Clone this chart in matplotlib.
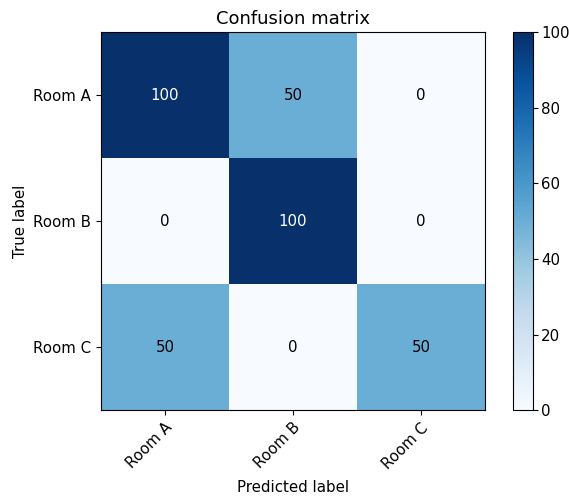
import numpy as np
import matplotlib
matplotlib.use("Agg")
import matplotlib.pyplot as plt
import matplotlib.transforms as mtransforms

# confusion matrix counts (rows: true, cols: predicted)
classes = ["Room A", "Room B", "Room C"]
cm = np.array([[100, 50, 0],
               [0, 100, 0],
               [50, 0, 50]])

plt.rcParams["font.size"] = 10.8

fig = plt.figure(figsize=(5.69, 4.96), dpi=100)
ax = fig.add_axes([0.1775, 0.173, 0.675, 0.762])
cax = fig.add_axes([0.9016, 0.173, 0.035, 0.762])

im = ax.imshow(cm, interpolation="nearest", cmap=plt.cm.Blues, aspect="auto")
ax.set_title("Confusion matrix")
fig.colorbar(im, cax=cax)
cax.tick_params(pad=2.5)

ticks = np.arange(len(classes))
ax.set_xticks(ticks)
ax.set_xticklabels(classes, rotation=45)
ax.set_yticks(ticks)
ax.set_yticklabels(classes)

# nudge the rotated labels a little to the left of their ticks
shift = mtransforms.ScaledTranslation(-16 / 100, 0, fig.dpi_scale_trans)
for lbl in ax.get_xticklabels():
    lbl.set_transform(lbl.get_transform() + shift)

thresh = cm.max() / 2.
for i in range(cm.shape[0]):
    for j in range(cm.shape[1]):
        ax.text(j, i, format(cm[i, j], "d"),
                horizontalalignment="center",
                verticalalignment="center",
                color="white" if cm[i, j] > thresh else "black")

ax.set_ylabel("True label")
ax.set_xlabel("Predicted label", labelpad=6)

fig.savefig("out.png", dpi=100)
